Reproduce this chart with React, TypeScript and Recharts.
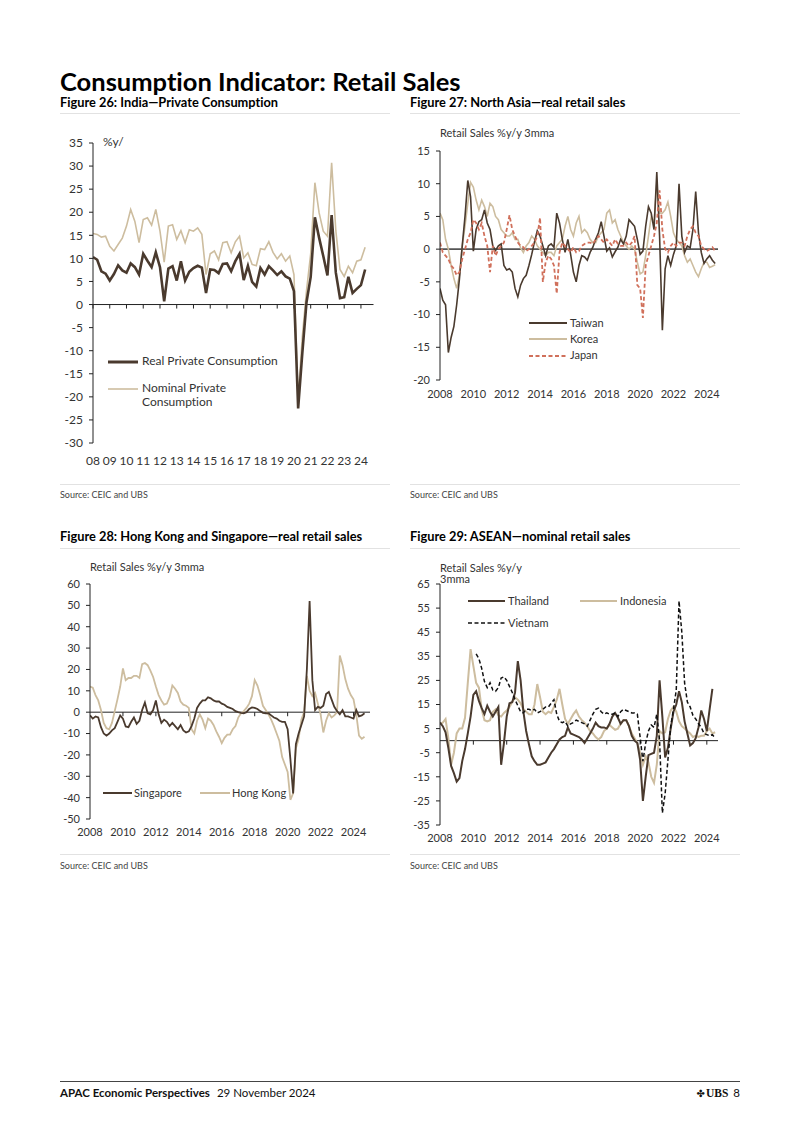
import React from 'react';
import { LineChart, Line, XAxis, YAxis, ReferenceLine } from 'recharts';

const FONT = "Lato, 'Noto Sans', Arial, sans-serif";
const DARK = '#4a3a2e';
const LIGHT = '#cdbd9f';
const RED = '#d0705b';
const AXIS = '#222';
const TEXT = '#333';

// ---------- Figure 26: India (quarterly, 2008Q1 - 2024Q2) ----------
const indiaQuarters = Array.from({ length: 66 }, (_, i) => `${2008 + Math.floor(i / 4)}Q${(i % 4) + 1}`);
const indiaReal = [
  10.3, 9.7, 7.2, 6.7, 5.2, 6.6, 8.5, 7.4, 6.9, 8.9, 8.1, 6.5, 11.0, 9.5, 8.1, 11.3,
  8.1, 0.7, 7.8, 8.3, 5.2, 9.4, 5.2, 7.1, 7.9, 8.4, 8.0, 2.5, 7.6, 7.5, 6.8, 8.8,
  8.9, 7.2, 9.4, 11.0, 5.3, 8.4, 4.9, 3.9, 7.9, 6.5, 8.3, 7.4, 6.4, 7.2, 6.1, 5.6,
  2.9, -22.5, -10.5, 0.5, 6.0, 18.9, 14.5, 10.5, 6.3, 19.4, 6.9, 1.4, 1.6, 6.0, 2.5, 3.4,
  4.2, 7.6,
];
const indiaNominal = [
  15.4, 15.2, 14.6, 14.8, 12.6, 11.6, 13.0, 14.4, 17.0, 20.6, 18.0, 13.4, 18.4, 18.8, 17.2, 20.6,
  15.9, 9.2, 17.0, 17.3, 14.1, 16.0, 13.4, 16.2, 15.9, 16.6, 15.2, 6.5, 11.0, 11.6, 9.7, 13.4,
  13.6, 11.2, 13.6, 14.8, 10.1, 11.2, 8.7, 8.4, 12.1, 11.9, 13.6, 11.3, 9.9, 11.0, 9.4, 10.5,
  6.5, -20.5, -7.0, 3.0, 11.0, 26.4, 19.9, 15.9, 14.8, 30.7, 16.0, 7.6, 6.1, 8.3, 6.9, 9.4,
  9.7, 12.4,
];
const indiaYTicks = [-30, -25, -20, -15, -10, -5, 0, 5, 10, 15, 20, 25, 30, 35];
const indiaXTicks = [2008, 2009, 2010, 2011, 2012, 2013, 2014, 2015, 2016, 2017, 2018, 2019, 2020, 2021, 2022, 2023, 2024];

// ---------- Monthly-based series sampled every two months ----------
const monthLabel = (k: number) => `${2008 + Math.floor((2 * k) / 12)}-${String(((2 * k) % 12) + 1).padStart(2, '0')}`;

// Figure 27: North Asia (2008-01 .. 2024-07)
const northAsiaPeriods = Array.from({ length: 100 }, (_, k) => monthLabel(k));
const taiwan = [
  -6.0, -7.8, -8.5, -15.8, -13.5, -11.8, -8.5, -4.5, 0.5, 5.0,
  10.5, 8.0, -0.3, 3.0, 4.2, 4.5, 6.0, 4.0, 3.0, 0.5,
  -0.2, 0.5, 0.8, -2.5, -3.2, -3.0, -3.5, -6.0, -7.3, -5.5,
  -4.5, -4.0, -2.5, -0.8, 1.1, 2.8, 2.0, 0.5, -1.0, 0.5,
  0.8, 0.3, 5.5, 4.0, 1.5, -0.5, 1.5, -0.8, -3.5, -5.0,
  -2.5, -1.0, -1.2, -1.7, -0.5, 0.3, 1.5, 2.5, 4.2, 2.0,
  -0.3, 0.2, -1.2, -0.4, 0.3, 1.5, 0.8, 2.0, 4.5, 4.0,
  3.5, 1.5, -0.8, -0.3, 3.5, 6.5, 5.5, 3.0, 11.8, 2.0,
  -12.4, -3.0, -1.0, -2.5, -0.8, 0.5, 10.0, 2.0, -0.5, 0.5,
  0.2, 3.0, 8.8, 2.5, -0.5, -2.2, -1.5, -1.0, -1.7, -2.2,
];
const korea = [
  5.5, 4.5, 1.5, 0.0, -2.5, -4.5, -6.0, -4.0, 0.5, 3.5,
  7.0, 10.2, 9.5, 7.5, 6.0, 7.5, 6.5, 5.0, 7.0, 6.5,
  5.0, 4.5, 3.0, 2.5, 2.0, 2.0, 2.5, 1.5, 1.5, 0.2,
  -0.5, 0.5, 1.0, 2.0, 1.5, 0.5, 0.0, -0.5, -1.0, -0.5,
  -0.5, -1.0, 0.5, 1.0, 1.5, 3.5, 5.0, 3.0, 2.0, 4.0,
  5.0, 2.5, 3.0, 2.5, 1.5, 1.0, 1.0, 2.0, 2.5, 3.0,
  5.5, 6.0, 4.0, 4.5, 3.0, 2.0, 1.0, 0.5, 0.0, 0.5,
  0.0, -2.0, -3.8, -3.5, -1.0, 2.0, 5.0, 4.0, 10.0, 5.5,
  5.5, 6.0, 7.2, 5.0, 2.5, 1.5, 1.0, 0.5, -1.0, -2.0,
  -1.5, -2.5, -3.5, -4.2, -3.0, -2.0, -2.0, -2.8, -2.6, -2.4,
];
const japan = [
  1.0, -0.5, -1.0, -1.5, -2.5, -3.0, -4.0, -3.5, -1.5, 0.0,
  1.5, 2.5, 4.5, 4.0, 3.0, 4.0, 2.0, 0.5, -3.5, 0.5,
  -1.0, 0.0, 0.5, 1.0, 3.0, 5.2, 3.0, 2.0, 1.0, 0.5,
  0.3, -0.3, 0.0, 0.5, 1.0, 2.0, 4.8, -5.0, -2.0, -1.0,
  -1.5, -2.5, -6.8, -0.5, 1.0, 0.5, 0.0, -0.5, 0.3, -0.5,
  -0.3, 0.5, 0.8, 1.0, 1.0, 0.8, 1.5, 2.0, 1.5, 1.0,
  1.5, 1.0, 0.5, 1.5, 0.8, 0.5, 0.5, 1.0, 0.5, 1.0,
  2.0, -5.5, -6.0, -10.5, -2.5, -1.0, 0.5, 2.0, 4.0, 9.0,
  3.0, 0.0, -0.5, 0.5, 1.0, 0.5, 1.0, 1.0, 0.5, 2.0,
  3.0, 3.5, 2.5, 2.0, 0.5, 0.0, -0.3, 0.0, 0.3, -0.3,
];
const northAsiaYTicks = [-20, -15, -10, -5, 0, 5, 10, 15];

// Figure 28: Hong Kong and Singapore (2008-01 .. 2024-09)
const hkSgPeriods = Array.from({ length: 101 }, (_, k) => monthLabel(k));
const singapore = [
  -1.5, -3.0, -2.0, -2.5, -7.0, -10.0, -11.0, -10.0, -8.5, -7.5,
  -4.5, -1.5, -3.0, -6.7, -7.0, -4.5, -2.5, -5.5, -4.0, 1.0,
  4.5, -0.5, -1.0, 1.0, 5.5, -1.0, -5.0, -3.5, -4.5, -6.5,
  -5.0, -6.5, -8.0, -6.0, -8.5, -9.5, -9.0, -6.5, -3.0, 2.0,
  4.0, 5.5, 5.5, 7.0, 6.5, 5.5, 5.0, 5.0, 4.0, 3.5,
  2.5, 2.0, 1.5, 0.5, 0.0, -0.3, -0.5, 0.0, 1.5, 2.2,
  2.0, 1.5, 0.5, -0.3, -0.5, -0.5, -1.5, -2.5, -3.0, -4.0,
  -4.5, -4.5, -8.0, -22.0, -38.0, -15.0, -10.0, -6.0, -2.0, 20.0,
  52.0, 15.0, 1.0, 2.5, 2.0, 3.0, 8.5, 9.5, 6.0, 2.5,
  0.5, -1.0, 1.0, -2.0, -2.0, -2.5, -3.0, 1.0, -2.0, -1.5,
  -0.5,
];
const hongKong = [
  12.0, 11.5, 8.0, 5.5, 1.0, -5.0, -7.5, -8.0, -5.0, 0.5,
  6.0, 12.0, 20.5, 15.0, 16.0, 16.0, 17.0, 17.0, 16.0, 22.5,
  23.0, 22.0, 19.5, 16.5, 12.0, 8.0, 5.5, 3.5, 4.0, 7.0,
  12.5, 11.0, 9.0, 5.0, 3.5, 3.0, 2.0, -8.0, -10.0, -4.0,
  -1.0, -3.5, -7.5, -3.0, -4.0, -6.0, -9.0, -11.5, -14.5, -12.0,
  -10.5, -10.5, -8.0, -6.5, -2.5, -0.5, 0.5, 2.0, 4.0, 7.5,
  15.0, 12.5, 8.0, 3.0, 1.0, -1.0, -3.5, -6.5, -10.0, -13.5,
  -21.0, -24.5, -28.0, -41.0, -38.0, -17.0, -12.5, -3.5, 0.0, 17.0,
  10.0, 7.5, 9.0, 4.0, -1.0, -9.5, -4.0, -0.5, -2.5, -1.5,
  0.0, 26.5, 22.0, 15.5, 11.0, 8.0, 6.0, -1.0, -11.0, -12.5,
  -11.5,
];
const hkSgYTicks = [-50, -40, -30, -20, -10, 0, 10, 20, 30, 40, 50, 60];

// Figure 29: ASEAN (2008-01 .. 2024-07)
const aseanPeriods = Array.from({ length: 100 }, (_, k) => monthLabel(k));
const thailand = [
  7.5, 6.0, 3.5, -3.0, -10.5, -13.5, -17.0, -15.5, -8.5, -3.5,
  3.0, 10.0, 19.0, 20.5, 16.5, 13.5, 11.0, 14.5, 12.0, 10.0,
  12.0, 14.0, -10.0, -1.0, 10.0, 15.5, 16.0, 20.0, 33.0, 25.0,
  12.0, 4.0, -1.5, -6.5, -8.5, -10.0, -10.0, -9.5, -9.0, -7.0,
  -5.0, -3.5, -1.5, 0.5, 1.5, 2.0, 5.5, 3.0, 2.5, 2.0,
  1.5, 0.5, -1.0, 1.0, 3.0, 5.0, 7.5, 6.0, 5.5, 5.5,
  5.0, 7.0, 10.0, 11.5, 9.5, 7.0, 8.5, 8.5, 6.0, 2.0,
  0.0, -1.0, -8.0, -25.0, -15.0, -6.0, -5.5, -5.0, 2.0, 25.0,
  10.0, -7.0, -3.0, 5.0, 12.0, 15.0, 20.5, 16.0, 8.0, 3.0,
  -2.0, -1.0, 1.0, 5.5, 12.5, 9.0, 4.0, 13.0, 21.5, null,
];
const indonesia = [
  7.0, 7.5, 9.0, 1.0, -10.0, -5.0, 3.0, 5.0, 5.0, 9.5,
  24.0, 38.0, 31.0, 24.0, 22.0, 13.0, 8.5, 8.0, 8.5, 12.0,
  13.0, 10.5, 10.0, 11.5, 12.5, 14.0, 16.0, 18.0, 17.0, 15.5,
  13.0, 12.0, 11.0, 11.0, 15.0, 23.5, 18.0, 12.0, 11.0, 12.0,
  11.5, 14.0, 17.0, 21.5, 15.0, 9.0, 7.0, 9.0, 11.0, 12.5,
  10.0, 8.5, 7.5, 6.0, 4.0, 3.0, 1.5, 0.5, 1.5, 4.0,
  5.0, 6.5, 5.5, 4.5, 5.0, 7.0, 8.5, 8.5, 6.0, 3.0,
  1.0, -1.0, -5.0, -10.0, -6.5, -9.0, -15.0, -17.5, -10.0, 4.0,
  3.0, 3.5, 9.0, 12.5, 14.0, 12.0, 8.0, 6.0, 5.0, 4.0,
  3.0, 1.5, 2.0, 1.5, 2.0, 2.0, 4.0, 5.0, 3.0, 3.5,
];
const vietnam = [
  null, null, null, null, null, null, null, null, null, null,
  null, null, null, 36.0, 34.0, 30.0, 24.5, 22.0, 24.0, 21.0,
  20.5, 22.0, 26.0, 26.5, 25.0, 22.5, 20.0, 17.0, 14.5, 12.0,
  11.5, 13.0, 13.0, 12.5, 13.0, 11.5, 12.0, 13.0, 14.0, 14.0,
  15.5, 17.0, 11.0, 8.0, 7.5, 8.0, 6.0, 7.0, 7.5, 8.5,
  8.0, 7.5, 7.0, 6.0, 8.5, 11.0, 13.0, 13.5, 12.0, 11.0,
  11.5, 11.0, 11.0, 11.5, 10.0, 12.0, 13.0, 12.5, 12.0, 11.5,
  11.5, 11.0, 1.5, -8.5, -1.0, 4.0, 6.5, 5.5, 11.0, 0.0,
  -30.0, -22.0, -8.0, 6.0, 13.0, 21.0, 58.0, 45.0, 24.0, 16.0,
  14.0, 10.5, 9.0, 7.0, 5.5, 3.0, 2.5, 2.0, 2.5, 1.0,
];
const aseanYTicks = [-35, -25, -15, -5, 5, 15, 25, 35, 45, 55, 65];
const evenYearTicks = [2008, 2010, 2012, 2014, 2016, 2018, 2020, 2022, 2024];

// ---------- helpers ----------
const quarterToT = (q: string) => Number(q.slice(0, 4)) + (Number(q.slice(5)) - 1) / 4;
const monthToT = (m: string) => Number(m.slice(0, 4)) + (Number(m.slice(5)) - 1) / 12;

const indiaData = indiaQuarters.map((q, i) => ({ t: quarterToT(q), real: indiaReal[i], nominal: indiaNominal[i] }));
const northAsiaData = northAsiaPeriods.map((m, i) => ({ t: monthToT(m), taiwan: taiwan[i], korea: korea[i], japan: japan[i] }));
const hkSgData = hkSgPeriods.map((m, i) => ({ t: monthToT(m), sg: singapore[i], hk: hongKong[i] }));
const aseanData = aseanPeriods.map((m, i) => ({ t: monthToT(m), th: thailand[i], id: indonesia[i], vn: vietnam[i] }));

const YW = 50;
const MT = 10;
const MR = 10;
const XH = 30;

type Box = { x: number; y: number; w: number; h: number };

function Panel(props: {
  box: Box;
  data: any[];
  xDomain: [number, number];
  xTicks: number[];
  xFmt?: (v: number) => string;
  yDomain: [number, number];
  yTicks: number[];
  fontSize: number;
  xMargin: number;
  children: React.ReactNode;
}) {
  const { box, data, xDomain, xTicks, xFmt, yDomain, yTicks, fontSize, xMargin, children } = props;
  const left = box.x - YW;
  const top = box.y - MT;
  const width = YW + box.w + MR;
  const height = MT + box.h + XH;
  const tickStyle = { fontSize, fill: TEXT, fontFamily: FONT };
  return (
    <div style={{ position: 'absolute', left, top, width, height }}>
      <LineChart width={width} height={height} data={data} margin={{ top: MT, right: MR, bottom: 0, left: 0 }}>
        <XAxis
          type="number"
          dataKey="t"
          domain={xDomain}
          ticks={xTicks}
          tickFormatter={xFmt}
          interval={0}
          allowDataOverflow
          axisLine={false}
          tickLine={false}
          tickSize={0}
          tickMargin={xMargin}
          height={XH}
          tick={tickStyle}
        />
        <YAxis
          type="number"
          domain={yDomain}
          ticks={yTicks}
          interval={0}
          allowDataOverflow
          width={YW}
          axisLine={{ stroke: AXIS, strokeWidth: 1 }}
          tickLine={{ stroke: AXIS, strokeWidth: 1 }}
          tickSize={4}
          tickMargin={6}
          tick={tickStyle}
        />
        {children}
      </LineChart>
    </div>
  );
}

const txt = (x: number, cy: number, fs: number, extra: React.CSSProperties = {}): React.CSSProperties => ({
  position: 'absolute',
  left: x,
  top: cy - 0.55 * fs,
  fontSize: fs,
  lineHeight: 1,
  whiteSpace: 'nowrap',
  fontVariantLigatures: 'none',
  ...extra,
});

function LegendItem(p: { x1: number; x2: number; cy: number; color: string; width: number; dash?: string; label: string; fs: number; tx: number }) {
  return (
    <>
      <svg style={{ position: 'absolute', left: p.x1, top: p.cy - 3, overflow: 'visible' }} width={p.x2 - p.x1} height={6}>
        <line x1={0} y1={3} x2={p.x2 - p.x1} y2={3} stroke={p.color} strokeWidth={p.width} strokeDasharray={p.dash} />
      </svg>
      <div style={txt(p.tx, p.cy, p.fs, { color: TEXT })}>{p.label}</div>
    </>
  );
}

const Rule = (p: { x: number; y: number; w: number; color: string; h?: number }) => (
  <div style={{ position: 'absolute', left: p.x, top: p.y, width: p.w, height: p.h || 1, background: p.color }} />
);

const zeroTicks = (years: number[], depth: number) =>
  years.map((yr) => (
    <ReferenceLine
      key={`zt${yr}`}
      segment={[{ x: yr, y: 0 }, { x: yr, y: -depth }]}
      stroke={AXIS}
      strokeWidth={1}
    />
  ));

export default function App() {
  return (
    <div style={{ position: 'absolute', left: 0, top: 0, width: 802, height: 1134, background: '#fff', fontFamily: FONT, color: '#000', fontVariantLigatures: 'none' }}>
      {/* Page title */}
      <div style={txt(60, 83, 25.5, { fontWeight: 700 })}>Consumption Indicator: Retail Sales</div>

      {/* Row 1 captions */}
      <div style={txt(60, 103, 12.8, { fontWeight: 700 })}>Figure 26: India—Private Consumption</div>
      <div style={txt(410, 103, 12.8, { fontWeight: 700 })}>Figure 27: North Asia—real retail sales</div>
      <Rule x={60} y={113} w={330} color="#e2e2e2" />
      <Rule x={410} y={113} w={330} color="#e2e2e2" />

      {/* Figure 26 */}
      <Panel
        box={{ x: 92.5, y: 143.3, w: 280.5, h: 300 }}
        data={indiaData}
        xDomain={[2008, 2024.75]}
        xTicks={indiaXTicks}
        xFmt={(v) => String(v).slice(2)}
        yDomain={[-30, 35]}
        yTicks={indiaYTicks}
        fontSize={12}
        xMargin={13}
      >
        <ReferenceLine y={0} stroke={AXIS} strokeWidth={1} />
        {zeroTicks(indiaXTicks, 0.87)}
        <Line dataKey="nominal" stroke={LIGHT} strokeWidth={1.6} dot={false} activeDot={false} isAnimationActive={false} />
        <Line dataKey="real" stroke={DARK} strokeWidth={2.6} dot={false} activeDot={false} isAnimationActive={false} />
      </Panel>
      <div style={txt(103, 143, 12, { color: TEXT })}>%y/</div>
      <LegendItem x1={108} x2={138} cy={362} color={DARK} width={3} label="Real Private Consumption" fs={12} tx={142} />
      <LegendItem x1={108} x2={138} cy={389} color={LIGHT} width={1.6} label="Nominal Private" fs={12} tx={142} />
      <div style={txt(142, 403, 12, { color: TEXT })}>Consumption</div>

      {/* Figure 27 */}
      <Panel
        box={{ x: 440, y: 151, w: 278, h: 229 }}
        data={northAsiaData}
        xDomain={[2008, 2024.67]}
        xTicks={evenYearTicks}
        yDomain={[-20, 15]}
        yTicks={northAsiaYTicks}
        fontSize={11}
        xMargin={10}
      >
        <ReferenceLine y={0} stroke="#555" strokeWidth={1.8} />
        <Line dataKey="korea" stroke={LIGHT} strokeWidth={1.6} dot={false} activeDot={false} isAnimationActive={false} />
        <Line dataKey="taiwan" stroke={DARK} strokeWidth={1.6} dot={false} activeDot={false} isAnimationActive={false} />
        <Line dataKey="japan" stroke={RED} strokeWidth={1.8} strokeDasharray="4 2.5" dot={false} activeDot={false} isAnimationActive={false} />
      </Panel>
      <div style={txt(440, 133, 11, { color: TEXT })}>Retail Sales %y/y 3mma</div>
      <LegendItem x1={529} x2={567} cy={323} color={DARK} width={1.8} label="Taiwan" fs={11} tx={570} />
      <LegendItem x1={529} x2={567} cy={339} color={LIGHT} width={1.8} label="Korea" fs={11} tx={570} />
      <LegendItem x1={529} x2={567} cy={355.5} color={RED} width={2} dash="4 2.5" label="Japan" fs={11} tx={570} />

      {/* Row 1 sources */}
      <Rule x={60} y={484} w={330} color="#e2e2e2" />
      <Rule x={410} y={484} w={330} color="#e2e2e2" />
      <div style={txt(60, 495, 9, { color: '#444' })}>Source: CEIC and UBS</div>
      <div style={txt(410, 495, 9, { color: '#444' })}>Source: CEIC and UBS</div>

      {/* Row 2 captions */}
      <div style={txt(60, 537, 12.8, { fontWeight: 700 })}>Figure 28: Hong Kong and Singapore—real retail sales</div>
      <div style={txt(410, 537, 12.8, { fontWeight: 700 })}>Figure 29: ASEAN—nominal retail sales</div>
      <Rule x={60} y={548} w={330} color="#e2e2e2" />
      <Rule x={410} y={548} w={330} color="#e2e2e2" />

      {/* Figure 28 */}
      <Panel
        box={{ x: 90, y: 584, w: 280, h: 235 }}
        data={hkSgData}
        xDomain={[2008, 2025]}
        xTicks={evenYearTicks}
        yDomain={[-50, 60]}
        yTicks={hkSgYTicks}
        fontSize={11}
        xMargin={9}
      >
        <ReferenceLine y={0} stroke={AXIS} strokeWidth={1} />
        {zeroTicks(evenYearTicks.slice(1), 1.9)}
        <Line dataKey="hk" stroke={LIGHT} strokeWidth={1.8} dot={false} activeDot={false} isAnimationActive={false} />
        <Line dataKey="sg" stroke={DARK} strokeWidth={1.8} dot={false} activeDot={false} isAnimationActive={false} />
      </Panel>
      <div style={txt(90, 567.5, 11, { color: TEXT })}>Retail Sales %y/y 3mma</div>
      <LegendItem x1={103} x2={132} cy={793} color={DARK} width={2} label="Singapore" fs={11} tx={134} />
      <LegendItem x1={200} x2={230} cy={793} color={LIGHT} width={2} label="Hong Kong" fs={11} tx={232} />

      {/* Figure 29 */}
      <Panel
        box={{ x: 440, y: 584, w: 278, h: 241 }}
        data={aseanData}
        xDomain={[2008, 2024.67]}
        xTicks={evenYearTicks}
        yDomain={[-35, 65]}
        yTicks={aseanYTicks}
        fontSize={11}
        xMargin={9}
      >
        <ReferenceLine y={0} stroke={AXIS} strokeWidth={1} />
        {zeroTicks(evenYearTicks.slice(1), 1.66)}
        <Line dataKey="id" stroke={LIGHT} strokeWidth={2} dot={false} activeDot={false} isAnimationActive={false} />
        <Line dataKey="th" stroke={DARK} strokeWidth={2} dot={false} activeDot={false} isAnimationActive={false} />
        <Line dataKey="vn" stroke="#111" strokeWidth={1.5} strokeDasharray="4 2.5" dot={false} activeDot={false} isAnimationActive={false} />
      </Panel>
      <div style={txt(440, 568, 11, { color: TEXT })}>Retail Sales %y/y</div>
      <div style={txt(440, 579, 11, { color: TEXT })}>3mma</div>
      <LegendItem x1={468} x2={505} cy={601} color={DARK} width={2.2} label="Thailand" fs={11} tx={508} />
      <LegendItem x1={580} x2={617} cy={601} color={LIGHT} width={2.2} label="Indonesia" fs={11} tx={620} />
      <LegendItem x1={468} x2={505} cy={623} color="#111" width={1.5} dash="4 2.5" label="Vietnam" fs={11} tx={508} />

      {/* Row 2 sources */}
      <Rule x={60} y={854} w={330} color="#e2e2e2" />
      <Rule x={410} y={854} w={330} color="#e2e2e2" />
      <div style={txt(60, 866, 9, { color: '#444' })}>Source: CEIC and UBS</div>
      <div style={txt(410, 866, 9, { color: '#444' })}>Source: CEIC and UBS</div>

      {/* Footer */}
      <Rule x={60} y={1081} w={680} color="#444" />
      <div style={txt(60, 1093, 11.5, { color: '#111' })}>
        <span style={{ fontWeight: 700 }}>APAC Economic Perspectives</span>
        <span style={{ marginLeft: 7 }}>29 November 2024</span>
      </div>
      <div style={txt(680, 1093, 11.5, { color: '#111', width: 60, textAlign: 'right' })}>
        <span style={{ fontFamily: "'DejaVu Sans'", fontSize: 10 }}>✤</span>
        <span style={{ fontFamily: "'Liberation Serif', serif", fontWeight: 700, marginLeft: 1 }}>UBS</span>
        <span style={{ marginLeft: 5 }}>8</span>
      </div>
    </div>
  );
}
